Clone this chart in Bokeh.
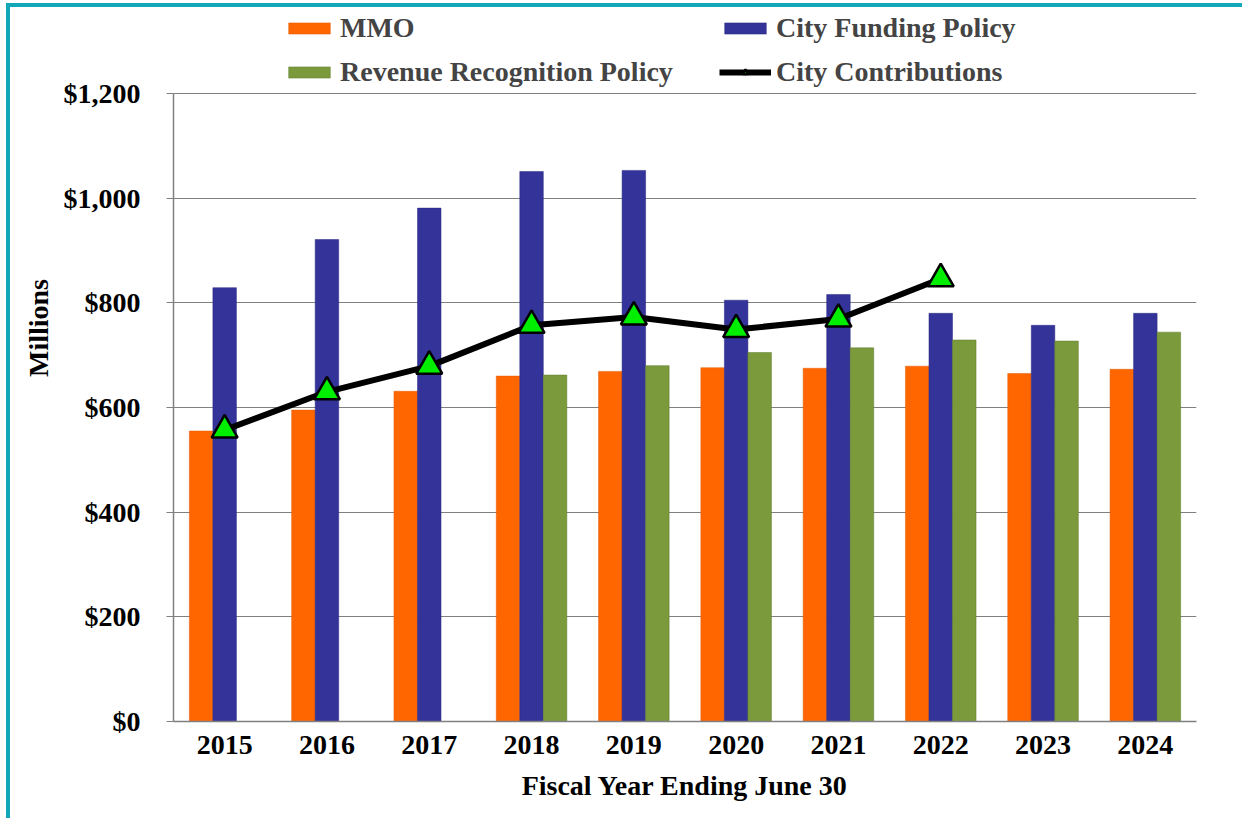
from bokeh.plotting import figure
from bokeh.models import (ColumnDataSource, FactorRange, Range1d, Legend, LegendItem,
                          NumeralTickFormatter)
from bokeh.transform import dodge
from bokeh.embed import file_html
from bokeh.resources import INLINE

years = ["2015", "2016", "2017", "2018", "2019", "2020", "2021", "2022", "2023", "2024"]
mmo = [555, 595, 631, 660, 669, 676, 675, 679, 665, 673]
city_funding = [829, 921, 981, 1051, 1053, 805, 816, 780, 757, 780]
revenue_recognition = [None, None, None, 662, 680, 705, 714, 729, 727, 744]
contrib_years = ["2015", "2016", "2017", "2018", "2019", "2020", "2021", "2022"]
city_contributions = [557, 630, 679, 757, 773, 749, 769, 846]
y_ticks = [0, 200, 400, 600, 800, 1000, 1200]

FONT = "Liberation Serif"
FS = "28px"
ORANGE = "#FF6600"
BLUE = "#333399"
GREEN = "#7A9A3C"
GRID = "#808080"
TEAL = "#12A8B8"

src = ColumnDataSource(dict(year=years, mmo=mmo, cf=city_funding,
                            rr=[float("nan") if v is None else v for v in revenue_recognition]))
csrc = ColumnDataSource(dict(year=contrib_years, cc=city_contributions))

# frame extends above the axis top so the legend sits inside it (axis/grid bounded to 0..1200)
y_top = y_ticks[-1] * 710 / 628
p = figure(width=1236, height=815, x_range=FactorRange(*years, range_padding=0),
           y_range=Range1d(0, y_top), output_backend="svg", toolbar_location=None,
           min_border_left=163, min_border_right=50, min_border_top=4, min_border_bottom=101,
           styles={"margin-left": "6px", "margin-top": "3px",
                   "border-left": f"4px solid {TEAL}", "border-top": f"4px solid {TEAL}"})
p.outline_line_color = None
p.background_fill_color = "white"
p.border_fill_color = "white"

w = 0.23
r_mmo = p.vbar(x=dodge("year", -w, range=p.x_range), top="mmo", width=w, source=src,
               fill_color=ORANGE, line_color="#E05A00", line_width=0.5)
r_cf = p.vbar(x=dodge("year", 0, range=p.x_range), top="cf", width=w, source=src,
              fill_color=BLUE, line_color="#2A2A80", line_width=0.5)
r_rr = p.vbar(x=dodge("year", w, range=p.x_range), top="rr", width=w, source=src,
              fill_color=GREEN, line_color="#5E7A2C", line_width=0.5)
r_line = p.line(x="year", y="cc", source=csrc, line_color="black", line_width=6)
r_tri = p.scatter(x="year", y="cc", source=csrc, marker="triangle", size=26,
                  fill_color="#00EE00", line_color="black", line_width=2.5)

# axes
p.xgrid.grid_line_color = None
p.ygrid.grid_line_color = GRID
p.ygrid.grid_line_width = 1.2
p.ygrid.bounds = (0, y_ticks[-1])
p.yaxis.ticker = y_ticks
p.yaxis.bounds = (0, y_ticks[-1])
p.yaxis.formatter = NumeralTickFormatter(format="$0,0")
for ax in (p.xaxis[0], p.yaxis[0]):
    ax.axis_line_color = GRID
    ax.axis_line_width = 1.5
    ax.major_tick_line_color = GRID
    ax.minor_tick_line_color = None
    ax.major_label_text_font = FONT
    ax.major_label_text_font_style = "bold"
    ax.major_label_text_font_size = FS
    ax.major_label_text_color = "black"
    ax.axis_label_text_font = FONT
    ax.axis_label_text_font_style = "bold"
    ax.axis_label_text_font_size = FS
    ax.axis_label_text_color = "black"
p.yaxis.major_tick_in = 0
p.yaxis.major_tick_out = 7
p.yaxis.major_label_standoff = 26
# leading non-breaking spaces lift the centred title toward the reference position
p.yaxis.axis_label = "\u00a0" * 11 + "Millions"
p.yaxis.axis_label_standoff = 7
p.xaxis.major_tick_in = 0
p.xaxis.major_tick_out = 0
p.xaxis.major_label_standoff = 14
p.xaxis.axis_label = "Fiscal Year Ending June 30"
p.xaxis.axis_label_standoff = 13

legend = Legend(items=[
    LegendItem(label="MMO", renderers=[r_mmo]),
    LegendItem(label="City Funding Policy", renderers=[r_cf]),
    LegendItem(label="Revenue Recognition Policy", renderers=[r_rr]),
    LegendItem(label="City Contributions", renderers=[r_line, r_tri]),
], orientation="horizontal", ncols=2, location=(110, 633),
    padding=0, margin=0, spacing=12, glyph_width=52, glyph_height=14,
    label_standoff=5, label_width=367, label_height=31,
    label_text_font=FONT, label_text_font_style="bold", label_text_font_size=FS,
    border_line_color=None, background_fill_alpha=0)
p.add_layout(legend, "center")

open("out.html", "w").write(file_html(p, INLINE))
